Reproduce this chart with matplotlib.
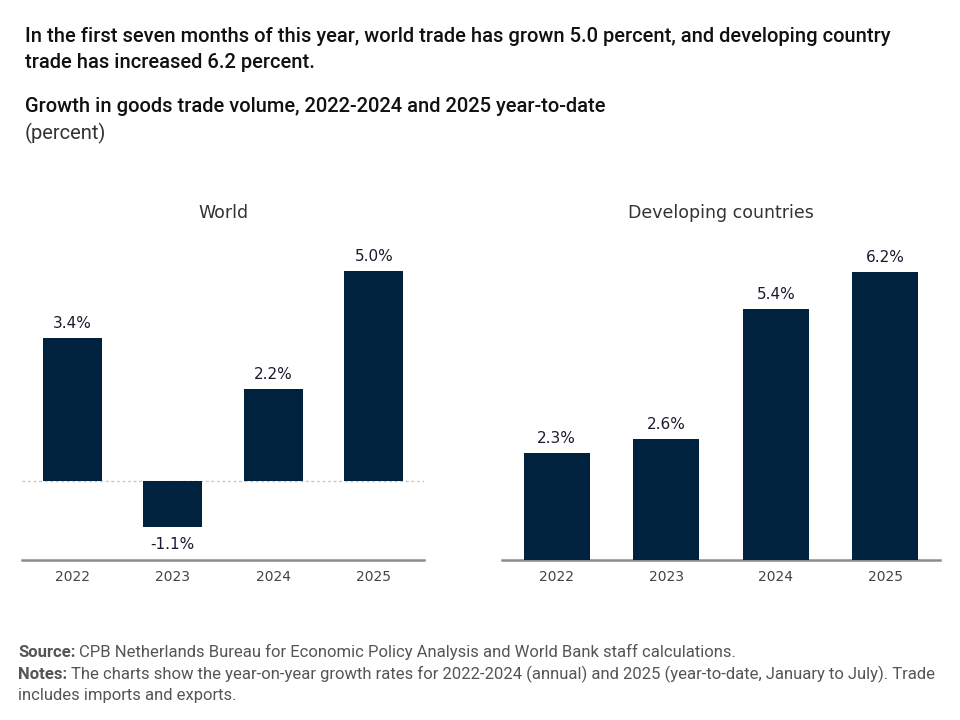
import matplotlib
matplotlib.use("Agg")
import matplotlib.pyplot as plt

# data
years = ["2022", "2023", "2024", "2025"]
world = [3.4, -1.1, 2.2, 5.0]
developing = [2.3, 2.6, 5.4, 6.2]

navy = "#00223F"
W, H = 960, 720

fig = plt.figure(figsize=(9.6, 7.2), dpi=100)

def box(x0, x1, ytop, ybot):
    return [x0 / W, 1 - ybot / H, (x1 - x0) / W, (ybot - ytop) / H]

ax1 = fig.add_axes(box(22, 424, 230, 560))
ax2 = fig.add_axes(box(502, 940, 230, 560))

def panel(ax, vals, width, ylim, zero_line):
    x = range(len(vals))
    ax.bar(x, vals, width=width, color=navy, zorder=3)
    for xi, v in zip(x, vals):
        if v >= 0:
            ax.annotate(f"{v:.1f}%", (xi, v), xytext=(0, 5), textcoords="offset points",
                        ha="center", va="bottom", fontsize=11, color="#1a1a2e",
                        family="DejaVu Sans")
        else:
            ax.annotate(f"{v:.1f}%", (xi, v), xytext=(0, -7), textcoords="offset points",
                        ha="center", va="top", fontsize=11, color="#1a1a2e",
                        family="DejaVu Sans")
    ax.set_xlim(-0.5, len(vals) - 0.5)
    ax.set_ylim(*ylim)
    if zero_line:
        ax.axhline(0, color="#c8c8c8", lw=1, ls=(0, (2, 2)), zorder=1)
    for s in ["top", "right", "left"]:
        ax.spines[s].set_visible(False)
    ax.spines["bottom"].set_color("#8c8c8c")
    ax.spines["bottom"].set_linewidth(1.8)
    ax.set_yticks([])
    ax.set_xticks(list(x))
    ax.set_xticklabels(years, fontsize=10, color="#444444", family="DejaVu Sans")
    ax.tick_params(axis="x", length=0, pad=7.5)

panel(ax1, world, 0.59, (-1.88, 5.98), True)
panel(ax2, developing, 0.6, (0, 7.1), False)

# panel titles
fig.text(223 / W, 1 - 213 / H, "World", ha="center", va="center",
         fontsize=12.5, color="#333333", family="DejaVu Sans")
fig.text(721 / W, 1 - 213 / H, "Developing countries", ha="center", va="center",
         fontsize=12.5, color="#333333", family="DejaVu Sans")

# headline and subtitle
fig.text(25 / W, 1 - 37 / H, "In the first seven months of this year, world trade has grown 5.0 percent, and developing country",
         ha="left", va="center", fontsize=14.5, fontweight="medium", family="Roboto", color="#111111")
fig.text(25 / W, 1 - 62 / H, "trade has increased 6.2 percent.",
         ha="left", va="center", fontsize=14.5, fontweight="medium", family="Roboto", color="#111111")
fig.text(25 / W, 1 - 107 / H, "Growth in goods trade volume, 2022-2024 and 2025 year-to-date",
         ha="left", va="center", fontsize=14.5, fontweight="medium", family="Roboto", color="#111111")
fig.text(25 / W, 1 - 133 / H, "(percent)",
         ha="left", va="center", fontsize=14.5, family="Roboto", color="#333333")

# footnotes with bold lead words
fig.canvas.draw()
renderer = fig.canvas.get_renderer()

def note(y, lead, rest):
    t = fig.text(18 / W, 1 - y / H, lead, ha="left", va="baseline", fontsize=12,
                 fontweight="bold", family="Roboto", color="#555555")
    bb = t.get_window_extent(renderer)
    fig.text(bb.x1 / W + 4 / W, 1 - y / H, rest, ha="left", va="baseline", fontsize=12,
             family="Roboto", color="#555555")

note(657, "Source:", "CPB Netherlands Bureau for Economic Policy Analysis and World Bank staff calculations.")
note(679, "Notes:", "The charts show the year-on-year growth rates for 2022-2024 (annual) and 2025 (year-to-date, January to July). Trade")
fig.text(18 / W, 1 - 700 / H, "includes imports and exports.", ha="left", va="baseline", fontsize=12,
         family="Roboto", color="#555555")

fig.savefig("out.png", dpi=100)
